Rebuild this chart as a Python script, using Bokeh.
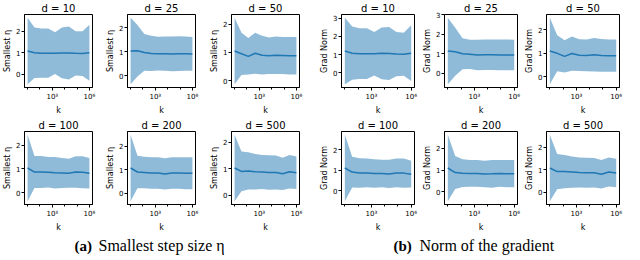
import numpy as np
from bokeh.plotting import figure
from bokeh.layouts import column, row
from bokeh.models import FixedTicker, Range1d, Label
from bokeh.embed import file_html
from bokeh.resources import INLINE

# ---------------- data ----------------
k = [10, 36, 129, 464, 1668, 5995, 21544, 77426, 278256, 1000000]
dims = [10, 25, 50, 100, 200, 500]

eta_mean_d10 = [1.08, 1.00, 0.98, 0.98, 0.98, 0.99, 0.99, 0.97, 0.96, 1.00]
eta_std_d10 = [1.54, 1.17, 1.14, 1.14, 0.97, 1.18, 1.23, 1.03, 1.04, 1.30]
eta_mean_d25 = [1.03, 1.04, 0.97, 0.93, 0.92, 0.92, 0.91, 0.92, 0.92, 0.91]
eta_std_d25 = [1.37, 1.06, 0.76, 0.73, 0.70, 0.71, 0.72, 0.72, 0.71, 0.70]
eta_mean_d50 = [1.05, 0.95, 0.86, 0.97, 0.90, 0.88, 0.90, 0.89, 0.88, 0.88]
eta_std_d50 = [1.18, 0.75, 0.65, 0.73, 0.69, 0.65, 0.67, 0.66, 0.67, 0.67]
eta_mean_d100 = [1.04, 0.87, 0.87, 0.86, 0.84, 0.83, 0.82, 0.87, 0.86, 0.82]
eta_std_d100 = [1.39, 0.67, 0.67, 0.64, 0.66, 0.63, 0.61, 0.66, 0.67, 0.64]
eta_mean_d200 = [1.07, 0.90, 0.88, 0.86, 0.86, 0.82, 0.86, 0.86, 0.85, 0.85]
eta_std_d200 = [1.41, 0.69, 0.67, 0.67, 0.67, 0.66, 0.67, 0.67, 0.68, 0.68]
eta_mean_d500 = [1.03, 0.90, 0.92, 0.89, 0.88, 0.86, 0.86, 0.81, 0.89, 0.85]
eta_std_d500 = [1.25, 0.75, 0.70, 0.67, 0.64, 0.65, 0.64, 0.61, 0.63, 0.61]

grad_mean_d10 = [1.20, 1.08, 1.05, 1.05, 1.05, 1.07, 1.06, 1.03, 1.02, 1.08]
grad_std_d10 = [1.83, 1.47, 1.40, 1.40, 1.20, 1.43, 1.46, 1.22, 1.18, 1.54]
grad_mean_d25 = [1.14, 1.10, 1.00, 0.97, 0.94, 0.95, 0.95, 0.94, 0.94, 0.94]
grad_std_d25 = [1.70, 1.23, 0.79, 0.75, 0.78, 0.78, 0.78, 0.79, 0.79, 0.78]
grad_mean_d50 = [1.10, 1.00, 0.87, 0.99, 0.92, 0.91, 0.94, 0.91, 0.90, 0.90]
grad_std_d50 = [1.42, 0.77, 0.69, 0.73, 0.68, 0.68, 0.72, 0.70, 0.69, 0.69]
grad_mean_d100 = [1.12, 0.92, 0.88, 0.88, 0.85, 0.85, 0.83, 0.88, 0.87, 0.82]
grad_std_d100 = [1.62, 0.75, 0.72, 0.70, 0.70, 0.67, 0.69, 0.70, 0.71, 0.65]
grad_mean_d200 = [1.10, 0.89, 0.86, 0.85, 0.85, 0.82, 0.83, 0.85, 0.84, 0.84]
grad_std_d200 = [1.53, 0.76, 0.64, 0.62, 0.62, 0.61, 0.64, 0.62, 0.63, 0.63]
grad_mean_d500 = [1.08, 0.92, 0.92, 0.90, 0.88, 0.87, 0.87, 0.80, 0.90, 0.86]
grad_std_d500 = [1.47, 0.78, 0.74, 0.69, 0.66, 0.66, 0.65, 0.63, 0.64, 0.63]

x_ticks = [1000, 1000000]
x_tick_labels = ["10³", "10⁶"]
x_minor = [1e1, 1e2, 1e4, 1e5]
y_ticks = [0, 1, 2, 3]

eta_means = [eta_mean_d10, eta_mean_d25, eta_mean_d50, eta_mean_d100, eta_mean_d200, eta_mean_d500]
eta_stds = [eta_std_d10, eta_std_d25, eta_std_d50, eta_std_d100, eta_std_d200, eta_std_d500]
grad_means = [grad_mean_d10, grad_mean_d25, grad_mean_d50, grad_mean_d100, grad_mean_d200, grad_mean_d500]
grad_stds = [grad_std_d10, grad_std_d25, grad_std_d50, grad_std_d100, grad_std_d200, grad_std_d500]

BLUE = "#1f77b4"
FONT = "DejaVu Sans"


def panel(title, ylabel, mean, std, fw, left, right):
    m = np.array(mean)
    s = np.array(std)
    lo, hi = m - s, m + s
    ymin, ymax = lo.min(), hi.max()
    pad = 0.05 * (ymax - ymin)
    p = figure(frame_width=fw, frame_height=73, x_axis_type="log",
               x_range=Range1d(10 ** 0.75, 10 ** 6.25),
               y_range=Range1d(ymin - pad, ymax + pad),
               output_backend="svg", toolbar_location=None,
               min_border_left=left, min_border_right=right,
               min_border_top=13, min_border_bottom=24,
               title=title, x_axis_label="k", y_axis_label=ylabel)
    p.varea(x=k, y1=lo, y2=hi, fill_color=BLUE, fill_alpha=0.5)
    p.line(x=k, y=m, line_color=BLUE, line_width=1.5)
    p.grid.visible = False
    p.outline_line_color = "black"
    p.outline_line_width = 1
    p.title.align = "center"
    p.title.text_font = FONT
    p.title.text_font_size = "10px"
    p.title.text_font_style = "normal"
    p.title.text_color = "black"
    p.title.standoff = 1
    p.xaxis.ticker = FixedTicker(ticks=x_ticks, minor_ticks=x_minor)
    p.xaxis.major_label_overrides = dict(zip(x_ticks, x_tick_labels))
    p.yaxis.ticker = FixedTicker(ticks=y_ticks, minor_ticks=[])
    for ax in (p.xaxis, p.yaxis):
        ax.axis_line_color = "black"
        ax.major_tick_line_color = "black"
        ax.major_tick_out = 3
        ax.major_tick_in = 0
        ax.minor_tick_out = 2
        ax.minor_tick_in = 0
        ax.major_label_text_font = FONT
        ax.major_label_text_font_size = "7px"
        ax.major_label_text_color = "black"
        ax.major_label_standoff = 2
        ax.axis_label_text_font = FONT
        ax.axis_label_text_font_size = "8px"
        ax.axis_label_text_font_style = "normal"
        ax.axis_label_text_color = "black"
        ax.axis_label_standoff = 2
    p.yaxis.major_label_standoff = 1
    p.yaxis.axis_label_standoff = 1
    return p


# frame width / left border / right border for the six columns
geom = [(68, 22, 11), (68, 22, 12), (68, 22, 18),
        (73, 22, 6), (73, 22, 5), (73, 22, 5)]

top, bottom = [], []
for i in range(3):
    fw, l, r = geom[i]
    top.append(panel(f"d = {dims[i]}", "Smallest η", eta_means[i], eta_stds[i], fw, l, r))
    bottom.append(panel(f"d = {dims[i + 3]}", "Smallest η", eta_means[i + 3], eta_stds[i + 3], fw, l, r))
for i in range(3):
    fw, l, r = geom[i + 3]
    top.append(panel(f"d = {dims[i]}", "Grad Norm", grad_means[i], grad_stds[i], fw, l, r))
    bottom.append(panel(f"d = {dims[i + 3]}", "Grad Norm", grad_means[i + 3], grad_stds[i + 3], fw, l, r))

cap = figure(width=624, height=22, x_range=Range1d(0, 624), y_range=Range1d(0, 22),
             output_backend="svg", toolbar_location=None,
             x_axis_location=None, y_axis_location=None, min_border=0)
cap.grid.visible = False
cap.outline_line_color = None
SERIF = "Liberation Serif"
for x, txt, style, size in [(74, "(a)", "bold", "15px"), (98, "Smallest step size η", "normal", "16px"),
                            (393, "(b)", "bold", "15px"), (419, "Norm of the gradient", "normal", "16px")]:
    cap.add_layout(Label(x=x, y=11, x_units="screen", y_units="data", text=txt,
                         text_font=SERIF, text_font_size=size, text_font_style=style,
                         text_baseline="middle", text_align="left", text_color="black"))

layout = column(row(*top), row(*bottom), cap)
open("out.html", "w").write(file_html(layout, INLINE))
